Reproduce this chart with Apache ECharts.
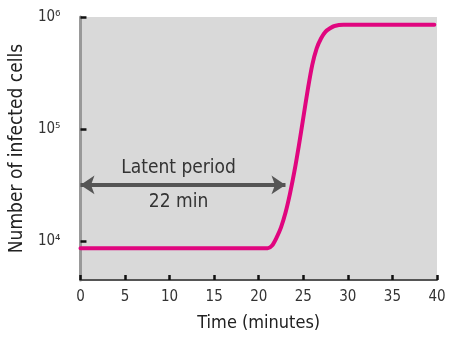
<!DOCTYPE html>
<html><head><meta charset="utf-8">
<script src="https://cdn.jsdelivr.net/npm/echarts@6/dist/echarts.min.js"></script>
<style>html,body{margin:0;padding:0;background:#fff;}#c{width:449px;height:337px;}</style>
</head><body><div id="c"></div>
<script>
// Data
const times  = [0, 21, 21.5, 22, 22.5, 23, 23.5, 24, 24.5, 25, 25.5, 26, 26.5, 27, 27.5, 28, 28.5, 29.5, 39.7];
const cells  = [8600, 8600, 9100, 10700, 13200, 17800, 26300, 41700, 70800, 126000, 224000, 372000, 525000, 646000, 741000, 794000, 832000, 851000, 851000];
const xTicks = [0, 5, 10, 15, 20, 25, 30, 35, 40];
const yTickLabels = {4: '10⁴', 5: '10⁵', 6: '10⁶'};
const latentStart = 0, latentEnd = 23, latentLevel = 31623;
const latentLabel = 'Latent period', latentValue = '22 min';

const FONT = "'DejaVu Sans Condensed', 'Liberation Sans Narrow', sans-serif";
const chart = echarts.init(document.getElementById('c'));
chart.setOption({
  animation: false,
  grid: {left: 78, right: 12, top: 17, bottom: 57, show: true, backgroundColor: '#d9d9d9', borderWidth: 0},
  xAxis: {
    type: 'value', min: 0, max: 40, interval: 5,
    name: 'Time (minutes)', nameLocation: 'middle', nameGap: 34,
    nameTextStyle: {fontFamily: FONT, fontSize: 18, color: '#222'},
    axisLine: {show: true, lineStyle: {color: '#555', width: 2}},
    axisTick: {show: true, inside: true, length: 5, lineStyle: {color: '#111', width: 2.5}},
    axisLabel: {fontFamily: FONT, fontSize: 15, color: '#333', margin: 10,
      formatter: v => xTicks.includes(v) ? String(v) : ''},
    splitLine: {show: false}
  },
  yAxis: {
    type: 'log', logBase: 10, min: 4470, max: 1000000,
    name: 'Number of infected cells', nameLocation: 'middle', nameGap: 46,
    nameTextStyle: {fontFamily: FONT, fontSize: 19, color: '#222'},
    axisLine: {show: true, lineStyle: {color: '#999', width: 3}},
    axisTick: {show: true, inside: true, length: 6, lineStyle: {color: '#111', width: 2.5}},
    axisLabel: {fontFamily: FONT, fontSize: 15, color: '#333', margin: 20, showMinLabel: false,
      formatter: v => { const e = Math.round(Math.log10(v)); return (Math.abs(Math.log10(v) - e) < 1e-6 && yTickLabels[e]) ? yTickLabels[e] : ''; }},
    splitLine: {show: false}
  },
  series: [{
    type: 'line', smooth: 0.3, symbol: 'none',
    data: times.map((t, i) => [t, cells[i]]),
    lineStyle: {color: '#e0067f', width: 4, cap: 'round'},
    markLine: {
      silent: true, symbol: ['arrow', 'arrow'], symbolSize: [14, 14],
      lineStyle: {color: '#555', width: 4, type: 'solid'},
      label: {show: false},
      data: [[{coord: [latentStart, latentLevel]}, {coord: [latentEnd, latentLevel]}]]
    }
  }],
  graphic: []
});
function addTexts() {
  const p = chart.convertToPixel({xAxisIndex: 0, yAxisIndex: 0}, [11, latentLevel]);
  chart.setOption({graphic: [
    {type: 'text', x: p[0], y: p[1] - 7, style: {text: latentLabel, fontFamily: FONT, fontSize: 19, fill: '#333', textAlign: 'center', textVerticalAlign: 'bottom'}},
    {type: 'text', x: p[0], y: p[1] + 8, style: {text: latentValue, fontFamily: FONT, fontSize: 19, fill: '#333', textAlign: 'center', textVerticalAlign: 'top'}}
  ]});
}
addTexts();
</script></body></html>
